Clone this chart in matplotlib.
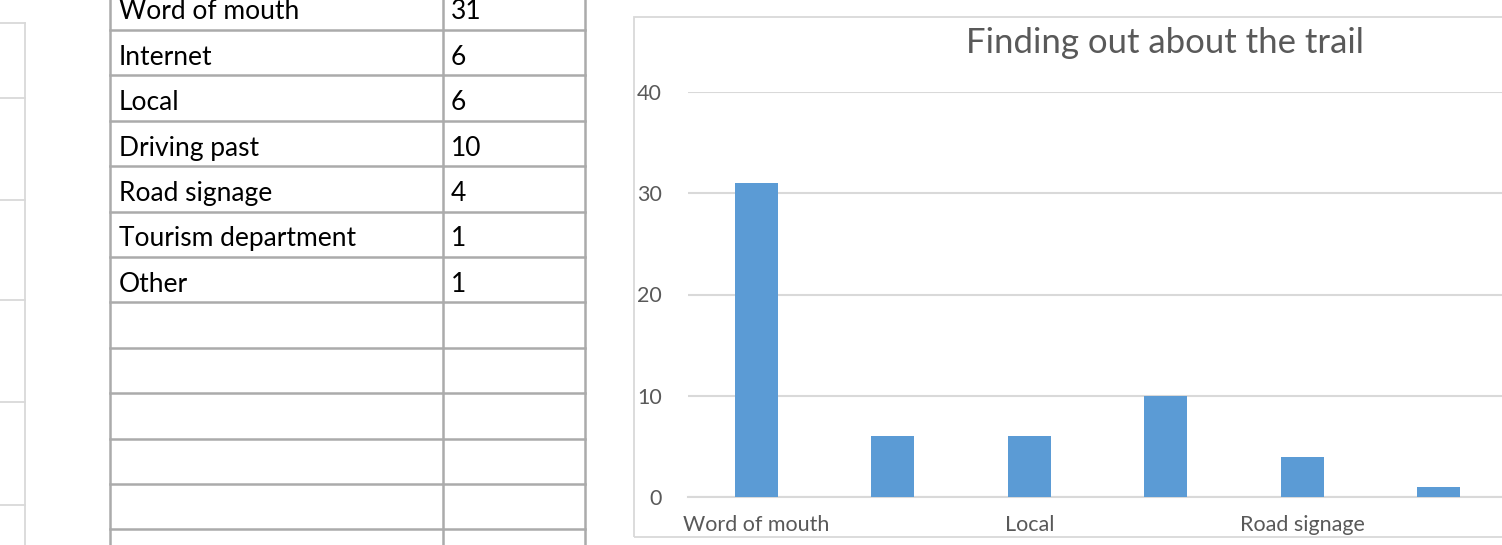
import matplotlib.pyplot as plt
from matplotlib.lines import Line2D
from matplotlib.patches import Rectangle

# table contents
sources = ['Word of mouth', 'Internet', 'Local', 'Driving past',
           'Road signage', 'Tourism department', 'Other']
counts = [31, 6, 6, 10, 4, 1, 1]

# the chart only shows the first six rows
chart_cats = sources[:6]
chart_vals = counts[:6]
y_ticks = [0, 10, 20, 30, 40]

W, H = 1502, 545
FONT = 'Lato'


def fx(px):
    return px / W


def fy(py):
    return 1 - py / H


plt.rcParams['font.family'] = [FONT, 'DejaVu Sans']
fig = plt.figure(figsize=(W / 100, H / 100), dpi=100)

# bit of another chart at the far left
for py in [23, 98, 200, 300, 402, 505]:
    fig.add_artist(Line2D([0, fx(25)], [fy(py), fy(py)], color='#D9D9D9', lw=1.3))
fig.add_artist(Line2D([fx(25), fx(25)], [fy(23), 0], color='#D9D9D9', lw=1.3))

# ---- spreadsheet table ----
row_h = 45.4
first_line = 30
tab = fig.add_axes([fx(110), 0, fx(585) - fx(110), 1])
tab.set_xlim(110, 585)
tab.set_ylim(1 + (H - first_line) / row_h, 1 - first_line / row_h)
tab.axis('off')
for r in range(0, 14):
    tab.axhline(r, color='#ABABAB', lw=1.8, clip_on=False)
for cx in [110, 443, 585]:
    tab.axvline(cx, color='#ABABAB', lw=1.8, clip_on=False)
for i, (s, c) in enumerate(zip(sources, counts)):
    tab.text(119, i + 0.6, s, fontsize=19, va='center', ha='left', color='black')
    tab.text(451, i + 0.6, str(c), fontsize=19, va='center', ha='left', color='black')

# ---- chart ----
fig.add_artist(Rectangle((fx(634), fy(537)), 1.0, fy(17) - fy(537),
                         transform=fig.transFigure, fill=False,
                         edgecolor='#D9D9D9', lw=1.3))

ax = fig.add_axes([fx(688), fy(497), fx(1507) - fx(688), (497 - 92) / H])
x = range(len(chart_cats))
ax.bar(x, chart_vals, width=0.315, color='#5B9BD5', zorder=3)
ax.set_xlim(-0.5, len(chart_cats) - 0.5)
ax.set_ylim(0, 40)
ax.set_yticks(y_ticks)
ax.set_xticks(list(x)[::2], chart_cats[::2])
ax.grid(axis='y', color='#D9D9D9', lw=1.5, zorder=0)
for sp in ['top', 'right', 'left']:
    ax.spines[sp].set_visible(False)
ax.spines['bottom'].set_color('#D9D9D9')
ax.spines['bottom'].set_linewidth(1.5)
ax.tick_params(length=0, labelsize=15.5, labelcolor='#595959')
ax.tick_params(axis='y', pad=19)
ax.tick_params(axis='x', pad=13)

fig.text(fx(1165), fy(43), 'Finding out about the trail', fontsize=25,
         color='#595959', ha='center', va='center')

fig.savefig('out.png', dpi=100)
